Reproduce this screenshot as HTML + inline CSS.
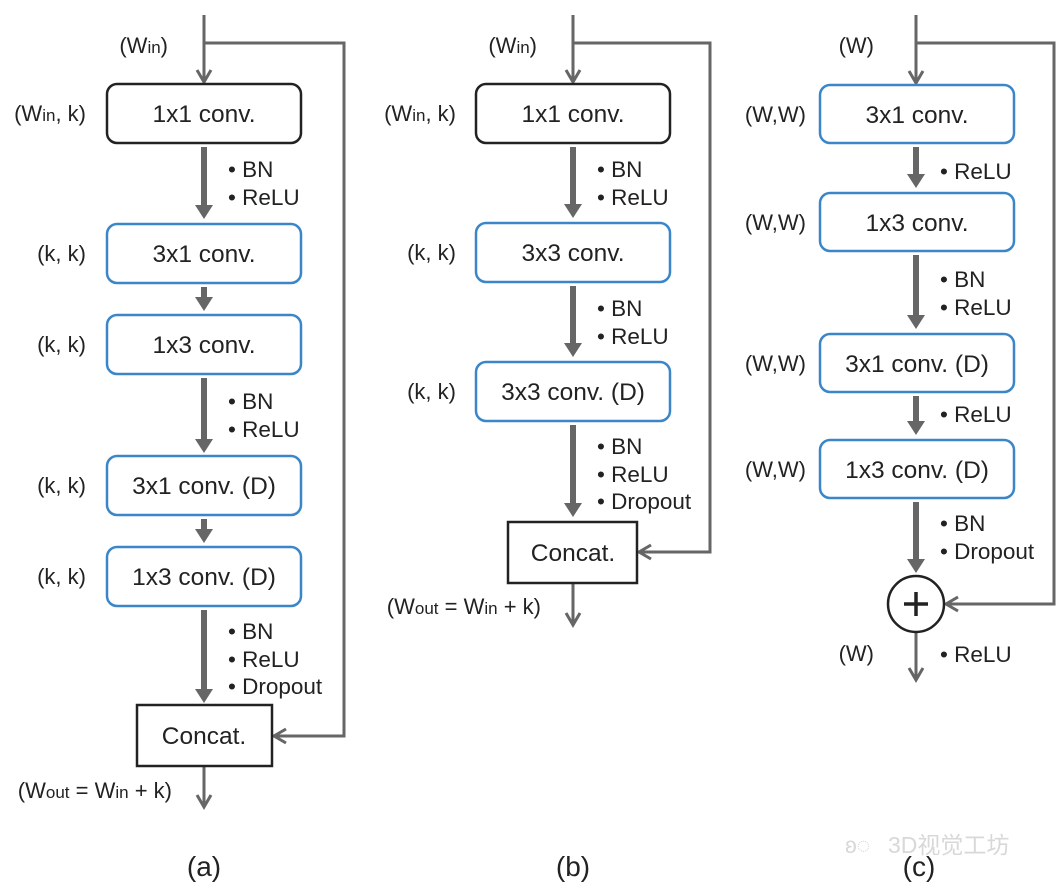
<!DOCTYPE html>
<html><head><meta charset="utf-8"><style>
html,body{margin:0;padding:0;background:#fff;}
svg{display:block;}
text{font-family:"Liberation Sans",Arial,sans-serif;fill:#222;}
.bx{font-size:24.5px;text-anchor:middle;}
.lb{font-size:22px;text-anchor:end;}
.bl{font-size:22.5px;}
.cap{font-size:28px;text-anchor:middle;}
.sub{font-size:17px;}
</style></head><body>
<svg width="1060" height="890" viewBox="0 0 1060 890" xmlns="http://www.w3.org/2000/svg">
<g fill="none" stroke="#666" stroke-width="3">
<line x1="204" y1="15" x2="204" y2="82"/><polyline points="197,70 204,82 211,70"/>
<polyline points="204,43 344,43 344,736 274,736"/><polyline points="286,729 274,736 286,743"/>
<line x1="204" y1="766" x2="204" y2="807"/><polyline points="197,795 204,807 211,795"/>
<line x1="573" y1="15" x2="573" y2="82"/><polyline points="566,70 573,82 580,70"/>
<polyline points="573,43 710,43 710,552 639,552"/><polyline points="651,545 639,552 651,559"/>
<line x1="573" y1="583" x2="573" y2="625"/><polyline points="566,613 573,625 580,613"/>
<line x1="916" y1="15" x2="916" y2="83"/><polyline points="909,71 916,83 923,71"/>
<polyline points="916,43 1054,43 1054,604 946,604"/><polyline points="958,597 946,604 958,611"/>
<line x1="916" y1="632" x2="916" y2="680"/><polyline points="909,668 916,680 923,668"/>
</g>
<g stroke="#666" stroke-width="6">
<line x1="204" y1="147" x2="204" y2="206"/><line x1="204" y1="287" x2="204" y2="298"/>
<line x1="204" y1="378" x2="204" y2="440"/><line x1="204" y1="519" x2="204" y2="530"/>
<line x1="204" y1="610" x2="204" y2="690"/>
<line x1="573" y1="147" x2="573" y2="205"/><line x1="573" y1="286" x2="573" y2="344"/>
<line x1="573" y1="425" x2="573" y2="504"/>
<line x1="916" y1="147" x2="916" y2="175"/><line x1="916" y1="255" x2="916" y2="316"/>
<line x1="916" y1="396" x2="916" y2="422"/><line x1="916" y1="502" x2="916" y2="560"/>
</g>
<g fill="#666">
<polygon points="195,205 213,205 204,219"/><polygon points="195,297 213,297 204,311"/>
<polygon points="195,439 213,439 204,453"/><polygon points="195,529 213,529 204,543"/>
<polygon points="195,689 213,689 204,703"/>
<polygon points="564,204 582,204 573,218"/><polygon points="564,343 582,343 573,357"/>
<polygon points="564,503 582,503 573,517"/>
<polygon points="907,174 925,174 916,188"/><polygon points="907,315 925,315 916,329"/>
<polygon points="907,421 925,421 916,435"/><polygon points="907,559 925,559 916,573"/>
</g>
<g fill="#fff" stroke-width="2.5">
<rect x="107" y="84" width="194" height="59" rx="10" stroke="#222"/>
<rect x="107" y="224" width="194" height="59" rx="10" stroke="#3a86c8"/>
<rect x="107" y="315" width="194" height="59" rx="10" stroke="#3a86c8"/>
<rect x="107" y="456" width="194" height="59" rx="10" stroke="#3a86c8"/>
<rect x="107" y="547" width="194" height="59" rx="10" stroke="#3a86c8"/>
<rect x="137" y="705" width="135" height="61" stroke="#222"/>
<rect x="476" y="84" width="194" height="59" rx="10" stroke="#222"/>
<rect x="476" y="223" width="194" height="59" rx="10" stroke="#3a86c8"/>
<rect x="476" y="362" width="194" height="59" rx="10" stroke="#3a86c8"/>
<rect x="508" y="522" width="129" height="61" stroke="#222"/>
<rect x="820" y="85" width="194" height="58" rx="10" stroke="#3a86c8"/>
<rect x="820" y="193" width="194" height="58" rx="10" stroke="#3a86c8"/>
<rect x="820" y="334" width="194" height="58" rx="10" stroke="#3a86c8"/>
<rect x="820" y="440" width="194" height="58" rx="10" stroke="#3a86c8"/>
<circle cx="916" cy="604" r="28" stroke="#222"/>
</g>
<g stroke="#222" stroke-width="3.5"><line x1="904" y1="604" x2="928" y2="604"/><line x1="916" y1="592" x2="916" y2="616"/></g>
<text class="bx" x="204" y="122">1x1 conv.</text>
<text class="bx" x="204" y="262">3x1 conv.</text>
<text class="bx" x="204" y="353">1x3 conv.</text>
<text class="bx" x="204" y="494">3x1 conv. (D)</text>
<text class="bx" x="204" y="585">1x3 conv. (D)</text>
<text class="bx" x="204" y="744">Concat.</text>
<text class="bx" x="573" y="122">1x1 conv.</text>
<text class="bx" x="573" y="261">3x3 conv.</text>
<text class="bx" x="573" y="400">3x3 conv. (D)</text>
<text class="bx" x="573" y="561">Concat.</text>
<text class="bx" x="917" y="123">3x1 conv.</text>
<text class="bx" x="917" y="231">1x3 conv.</text>
<text class="bx" x="917" y="372">3x1 conv. (D)</text>
<text class="bx" x="917" y="478">1x3 conv. (D)</text>
<text class="lb" x="168" y="53">(W<tspan class="sub">in</tspan>)</text>
<text class="lb" x="86" y="121">(W<tspan class="sub">in</tspan>, k)</text>
<text class="lb" x="86" y="261">(k, k)</text>
<text class="lb" x="86" y="352">(k, k)</text>
<text class="lb" x="86" y="493">(k, k)</text>
<text class="lb" x="86" y="584">(k, k)</text>
<text class="lb" x="172" y="798">(W<tspan class="sub">out</tspan> = W<tspan class="sub">in</tspan> + k)</text>
<text class="lb" x="537" y="53">(W<tspan class="sub">in</tspan>)</text>
<text class="lb" x="456" y="121">(W<tspan class="sub">in</tspan>, k)</text>
<text class="lb" x="456" y="260">(k, k)</text>
<text class="lb" x="456" y="399">(k, k)</text>
<text class="lb" x="541" y="614">(W<tspan class="sub">out</tspan> = W<tspan class="sub">in</tspan> + k)</text>
<text class="lb" x="874" y="53">(W)</text>
<text class="lb" x="806" y="122">(W,W)</text>
<text class="lb" x="806" y="230">(W,W)</text>
<text class="lb" x="806" y="371">(W,W)</text>
<text class="lb" x="806" y="477">(W,W)</text>
<text class="lb" x="874" y="661">(W)</text>
<text class="bl" x="228" y="177">• BN</text><text class="bl" x="228" y="205">• ReLU</text>
<text class="bl" x="228" y="409">• BN</text><text class="bl" x="228" y="437">• ReLU</text>
<text class="bl" x="228" y="639">• BN</text><text class="bl" x="228" y="667">• ReLU</text><text class="bl" x="228" y="694">• Dropout</text>
<text class="bl" x="597" y="177">• BN</text><text class="bl" x="597" y="205">• ReLU</text>
<text class="bl" x="597" y="316">• BN</text><text class="bl" x="597" y="344">• ReLU</text>
<text class="bl" x="597" y="454">• BN</text><text class="bl" x="597" y="482">• ReLU</text><text class="bl" x="597" y="509">• Dropout</text>
<text class="bl" x="940" y="179">• ReLU</text>
<text class="bl" x="940" y="287">• BN</text><text class="bl" x="940" y="315">• ReLU</text>
<text class="bl" x="940" y="422">• ReLU</text>
<text class="bl" x="940" y="531">• BN</text><text class="bl" x="940" y="559">• Dropout</text>
<text class="bl" x="940" y="662">• ReLU</text>
<text class="cap" x="204" y="876">(a)</text>
<text class="cap" x="573" y="876">(b)</text>
<text class="cap" x="919" y="876">(c)</text>
<text x="888" y="853" style="font-size:23px;fill:#d8d8d8;font-family:'Liberation Sans','Noto Sans CJK SC',sans-serif;">3D视觉工坊</text>
<text x="845" y="853" style="font-size:23px;fill:#d8d8d8;">ʚ◌</text>
</svg>
</body></html>
